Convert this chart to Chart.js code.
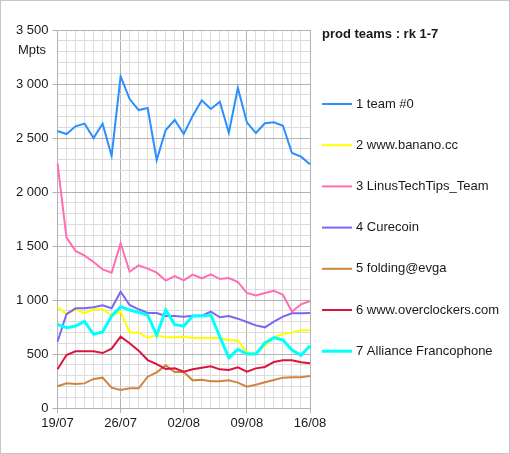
<!DOCTYPE html>
<html>
<head>
<meta charset="utf-8">
<script src="https://cdn.jsdelivr.net/npm/chart.js@4/dist/chart.umd.min.js"></script>
<style>
html, body { margin: 0; padding: 0; background: #fff; }
#wrap { width: 510px; height: 454px; box-sizing: border-box; border: 1px solid #c6c6c6; }
canvas { display: block; }
</style>
</head>
<body>
<div id="wrap"><canvas id="chart-teams" width="508" height="452"></canvas></div>
<script>
// prod teams, daily points (Mpts)
let dayLabels = ['19/07', '20/07', '21/07', '22/07', '23/07', '24/07', '25/07', '26/07', '27/07', '28/07',
    '29/07', '30/07', '31/07', '01/08', '02/08', '03/08', '04/08', '05/08', '06/08', '07/08',
    '08/08', '09/08', '10/08', '11/08', '12/08', '13/08', '14/08', '15/08', '16/08'];

let teamNames = ['1 team #0', '2 www.banano.cc', '3 LinusTechTips_Team', '4 Curecoin',
    '5 folding@evga', '6 www.overclockers.com', '7 Alliance Francophone'];

let team0 = [2565, 2537, 2608, 2633, 2500, 2633, 2336, 3071, 2861, 2759, 2778, 2296, 2574, 2667, 2537,
    2707, 2849, 2769, 2836, 2549, 2963, 2645, 2546, 2636, 2645, 2614, 2361, 2327, 2256];
let banano = [935, 867, 914, 877, 914, 914, 855, 892, 700, 700, 651, 673, 654, 654, 660,
    648, 648, 648, 648, 627, 627, 512, 512, 574, 657, 685, 698, 719, 719];
let linus = [2265, 1577, 1454, 1410, 1352, 1284, 1253, 1525, 1262, 1321, 1290, 1253, 1179, 1222, 1182,
    1235, 1201, 1238, 1194, 1204, 1167, 1065, 1043, 1065, 1086, 1049, 892, 960, 991];
let curecoin = [614, 870, 923, 923, 932, 951, 923, 1077, 954, 914, 880, 880, 852, 852, 846,
    855, 855, 892, 840, 852, 827, 796, 765, 747, 799, 846, 877, 877, 880];
let evga = [201, 228, 222, 228, 269, 281, 188, 167, 182, 182, 290, 330, 395, 333, 333,
    256, 262, 247, 247, 256, 235, 198, 216, 238, 259, 281, 284, 284, 296];
let overclockers = [358, 491, 525, 525, 525, 509, 549, 660, 599, 531, 444, 407, 361, 367, 336,
    358, 373, 386, 358, 352, 377, 336, 367, 380, 426, 441, 441, 423, 414];
let alliance = [775, 744, 759, 802, 682, 704, 852, 938, 907, 886, 861, 673, 907, 772, 759,
    852, 852, 861, 660, 466, 543, 500, 500, 602, 651, 630, 537, 488, 577];

let teamColors = ['#2b8fff', '#ffff00', '#ff6eb4', '#7b68ee', '#cd853f', '#dc143c', '#00ffff'];
let teamWidths = [2, 2, 2, 2, 2, 2, 3];

let legendTitle = 'prod teams : rk 1-7';
let unitLabel = 'Mpts';

const fontFamily = '"Liberation Sans", Arial, sans-serif';
const textColor = '#1a1a1a';
const majorGrid = '#b3b3b3';
const minorGrid = '#dddddd';

function fmtPts(v) {
    if (v < 1000) return String(v);
    return Math.floor(v / 1000) + ' ' + String(v % 1000).padStart(3, '0');
}

// legend on the right + unit label under the top tick
const sideLegend = {
    id: 'sideLegend',
    afterDraw(chart) {
        const c = chart.ctx;
        c.save();
        c.textBaseline = 'middle';
        c.textAlign = 'left';
        c.fillStyle = textColor;
        c.font = 'bold 13px ' + fontFamily;
        c.fillText(legendTitle, 321, 33);
        c.font = '13px ' + fontFamily;
        chart.data.datasets.forEach((ds, i) => {
            const y = 103 + i * 41.2;
            c.strokeStyle = ds.borderColor;
            c.lineWidth = ds.borderWidth;
            c.beginPath();
            c.moveTo(321, y);
            c.lineTo(351, y);
            c.stroke();
            c.fillText(ds.label, 355, y);
        });
        c.textAlign = 'center';
        c.fillText(unitLabel, 31, 49);
        c.restore();
    }
};

let series = [team0, banano, linus, curecoin, evga, overclockers, alliance];

var ctxTeams = document.getElementById('chart-teams').getContext('2d');

let chartTeams = new Chart(ctxTeams, {
    type: 'line',
    data: {
        labels: dayLabels,
        datasets: series.map((d, i) => ({
            label: teamNames[i],
            data: d,
            borderColor: teamColors[i],
            backgroundColor: teamColors[i],
            borderWidth: teamWidths[i],
            pointRadius: 0,
            tension: 0,
            fill: false,
            order: 6 - i
        }))
    },
    options: {
        responsive: false,
        animation: false,
        layout: { padding: { top: 29, right: 199, left: 0, bottom: 0 } },
        plugins: {
            legend: { display: false },
            tooltip: { enabled: false }
        },
        scales: {
            x: {
                grid: {
                    color: c => (c.index % 7 === 0 ? majorGrid : minorGrid),
                    tickColor: c => (c.index % 7 === 0 ? majorGrid : 'rgba(0,0,0,0)'),
                    tickLength: 5
                },
                border: { color: majorGrid },
                ticks: {
                    autoSkip: false,
                    maxRotation: 0,
                    padding: 3,
                    color: textColor,
                    font: { family: fontFamily, size: 13 },
                    callback: (v, i) => (i % 7 === 0 ? dayLabels[i] : '')
                },
                afterFit: s => { s.height = 45; }
            },
            y: {
                min: 0,
                max: 3500,
                grid: {
                    color: c => (c.tick && c.tick.value % 500 === 0 ? majorGrid : minorGrid),
                    tickColor: c => (c.tick && c.tick.value % 500 === 0 ? majorGrid : 'rgba(0,0,0,0)'),
                    tickLength: 5
                },
                border: { color: majorGrid },
                ticks: {
                    stepSize: 100,
                    autoSkip: false,
                    padding: 4,
                    color: textColor,
                    font: { family: fontFamily, size: 13 },
                    callback: v => (v % 500 === 0 ? fmtPts(v) : '')
                },
                afterFit: s => { s.width = 56.5; }
            }
        }
    },
    plugins: [sideLegend]
});
</script>
</body>
</html>
